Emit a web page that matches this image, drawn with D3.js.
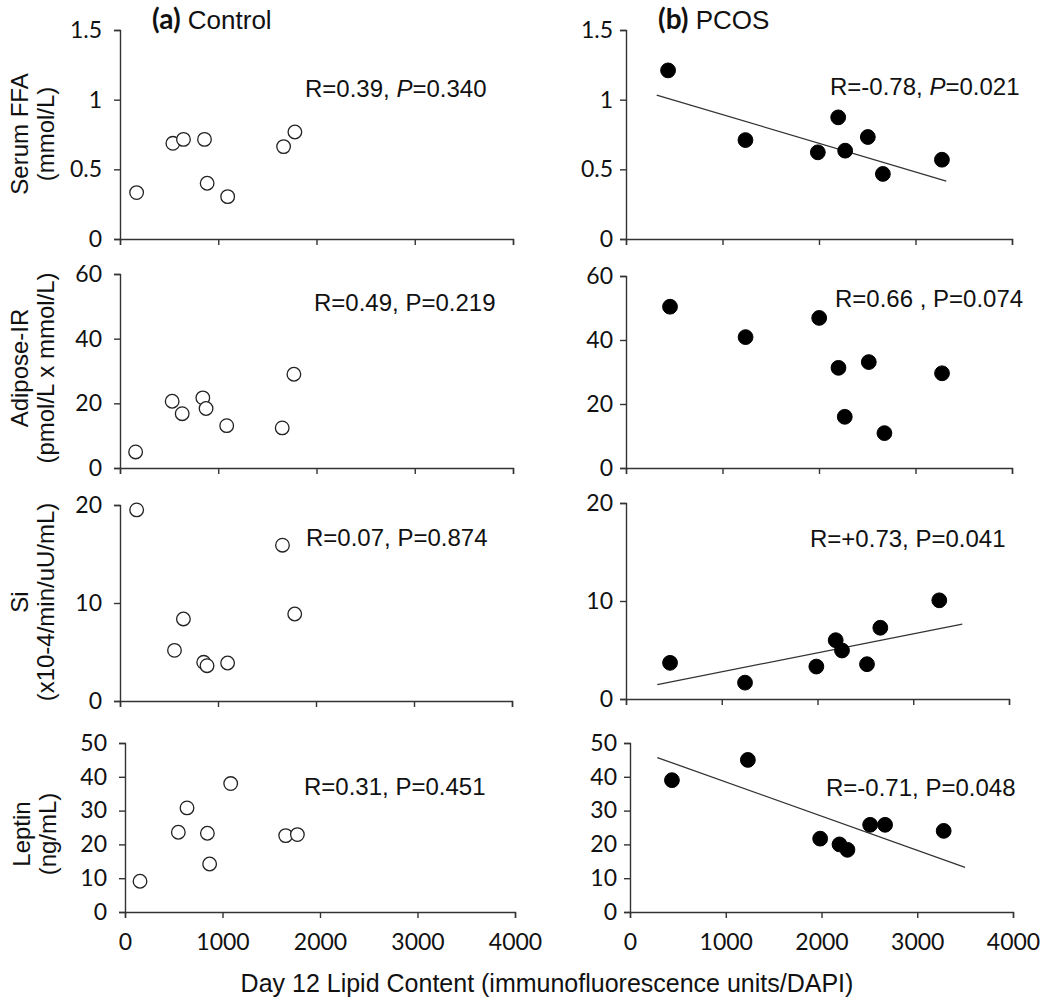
<!DOCTYPE html>
<html>
<head>
<meta charset="utf-8">
<script src="https://cdn.jsdelivr.net/npm/d3@7"></script>
<style>
  html, body { margin: 0; padding: 0; background: #fff; }
  svg { display: block; }
</style>
</head>
<body>
<svg id="chart" width="1050" height="1004"></svg>
<script>
// ---------------- DATA ----------------
const rowNames = ["Serum FFA", "Adipose-IR", "Si", "Leptin"];
const rowUnits = ["(mmol/L)", "(pmol/L x mmol/L)", "(x10-4/min/uU/mL)", "(ng/mL)"];
const yMax = [1.5, 60, 20, 50];
const yTicks = [[0, 0.5, 1, 1.5], [0, 20, 40, 60], [0, 10, 20], [0, 10, 20, 30, 40, 50]];
const xTicks = [0, 1000, 2000, 3000, 4000];
const xTitle = "Day 12 Lipid Content (immunofluorescence units/DAPI)";

// Control group (open circles)
const controlX = [
  [169, 538, 646, 860, 887, 1096, 1665, 1780],
  [159, 531, 633, 843, 876, 1086, 1651, 1770],
  [170, 556, 647, 854, 888, 1098, 1658, 1783],
  [154, 547, 636, 845, 868, 1084, 1648, 1768]
];
const controlY = [
  [0.333, 0.687, 0.715, 0.715, 0.40, 0.304, 0.663, 0.768],
  [4.96, 20.65, 16.8, 21.7, 18.4, 13.1, 12.4, 29.0],
  [19.5, 5.17, 8.37, 3.95, 3.6, 3.88, 15.9, 8.88],
  [9.1, 23.6, 30.8, 23.3, 14.2, 38.0, 22.6, 22.9]
];
// PCOS group (filled circles)
const pcosX = [
  [436, 1238, 1988, 2199, 2271, 2506, 2662, 3274],
  [456, 1239, 2002, 2202, 2267, 2516, 2678, 3275],
  [460, 1243, 1988, 2190, 2256, 2517, 2656, 3272],
  [438, 1231, 1986, 2188, 2271, 2508, 2664, 3276]
];
const pcosY = [
  [1.21, 0.71, 0.622, 0.873, 0.634, 0.732, 0.467, 0.569],
  [50.4, 40.9, 46.9, 31.3, 16.0, 33.1, 10.9, 29.6],
  [3.69, 1.67, 3.31, 6.0, 4.95, 3.55, 7.27, 10.07],
  [39.0, 45.0, 21.7, 20.0, 18.4, 25.8, 25.8, 24.0]
];
// regression line end points [x0, y0, x1, y1] (null = none)
const pcosFit = [
  [318, 1.033, 3319, 0.416],
  null,
  [327, 1.47, 3512, 7.65],
  [285, 45.7, 3499, 13.2]
];
const controlR = ["0.39", "0.49", "0.07", "0.31"];
const controlP = ["0.340", "0.219", "0.874", "0.451"];
const pcosR = ["-0.78", "0.66 ", "+0.73", "-0.71"];
const pcosP = ["0.021", "0.074", "0.041", "0.048"];
const italicP = [true, false, false, false];
const groupTags = ["(a)", "(b)"];
const groupNames = ["Control", "PCOS"];

// ---------------- LAYOUT ----------------
// per panel pixel frame: [x at 0, x at 4000, y at max, y at 0]
const frames = [
  [[120, 513, 30, 239], [626, 1012, 30, 239]],
  [[120, 513, 274, 468], [626, 1012, 276, 468]],
  [[120, 512, 505, 701], [626, 1009, 503, 699]],
  [[125, 515, 743, 912], [630, 1013, 743, 912]]
];
const yPad = [12, 7];
const statPos = [
  [[305, 97], [830, 95]],
  [[314, 311], [835, 307]],
  [[306, 546], [810, 547]],
  [[304, 795], [826, 796]]
];
const labelCenterY = [134, 368, 602, 834];

const svg = d3.select("#chart");
const SANS = "'Liberation Sans', Arial, sans-serif";
const TICKF = "Lato, 'Open Sans', sans-serif";
const AX = "#333";

for (let r = 0; r < 4; r++) {
  for (let c = 0; c < 2; c++) {
    const f = frames[r][c];
    const x = d3.scaleLinear().domain([0, 4000]).range([f[0], f[1]]);
    const y = d3.scaleLinear().domain([0, yMax[r]]).range([f[3], f[2]]);
    const g = svg.append("g");

    // x axis
    const xa = d3.axisBottom(x).tickValues(xTicks).tickSize(6).tickSizeOuter(6).tickPadding(16)
      .tickFormat(d => String(d));
    if (r < 3) xa.tickFormat("");
    const gx = g.append("g").attr("transform", `translate(0,${f[3]})`).call(xa);
    // y axis
    const ya = d3.axisLeft(y).tickValues(yTicks[r]).tickSize(6).tickSizeOuter(6).tickPadding(yPad[c])
      .tickFormat(d => String(d));
    const gy = g.append("g").attr("transform", `translate(${f[0]},0)`).call(ya);
    [gx, gy].forEach(a => {
      a.selectAll("path, line").attr("stroke", AX).attr("stroke-width", 1.4);
      a.selectAll("text").attr("fill", "#111").style("font-family", TICKF).style("font-size", "23px");
    });

    // regression line
    if (c === 1 && pcosFit[r]) {
      const L = pcosFit[r];
      g.append("line")
        .attr("x1", x(L[0])).attr("y1", y(L[1]))
        .attr("x2", x(L[2])).attr("y2", y(L[3]))
        .attr("stroke", "#333").attr("stroke-width", 1.3);
    }

    // points
    const xs = c === 0 ? controlX[r] : pcosX[r];
    const ys = c === 0 ? controlY[r] : pcosY[r];
    const pts = xs.map((v, i) => ({ x: v, y: ys[i] }));
    g.selectAll("circle.pt").data(pts).enter().append("circle")
      .attr("class", "pt")
      .attr("cx", d => x(d.x)).attr("cy", d => y(d.y))
      .attr("r", c === 0 ? 6.8 : 7.4)
      .attr("fill", c === 0 ? "#fff" : "#000")
      .attr("stroke", c === 0 ? "#222" : "#000")
      .attr("stroke-width", c === 0 ? 1.3 : 1);

    // stats annotation
    const sp = statPos[r][c];
    const t = g.append("text").attr("x", sp[0]).attr("y", sp[1])
      .style("font-family", SANS).style("font-size", "24px").attr("fill", "#111");
    t.append("tspan").text("R=" + (c === 0 ? controlR[r] : pcosR[r]) + ", ");
    t.append("tspan").text("P").style("font-style", italicP[r] ? "italic" : "normal");
    t.append("tspan").text("=" + (c === 0 ? controlP[r] : pcosP[r]));
  }

  // y axis title (left column only)
  const lt = svg.append("text")
    .attr("transform", `translate(0,${labelCenterY[r]}) rotate(-90)`)
    .attr("text-anchor", "middle")
    .style("font-family", SANS).style("font-size", "24px").attr("fill", "#111");
  lt.append("tspan").attr("x", 0).attr("y", r === 3 ? 30 : 28).text(rowNames[r]);
  lt.append("tspan").attr("x", 0).attr("y", r === 3 ? 56 : 54).text(rowUnits[r]);
}

// panel titles
const titleX = [152, 658];
for (let c = 0; c < 2; c++) {
  const tt = svg.append("text").attr("x", titleX[c]).attr("y", 29)
    .style("font-family", SANS).style("font-size", "26px").attr("fill", "#111");
  tt.append("tspan").text(groupTags[c]).style("font-weight", "bold").style("font-family", TICKF)
    .style("font-size", "28px");
  tt.append("tspan").text(" " + groupNames[c]);
}

// x axis title
svg.append("text").attr("x", 547).attr("y", 992).attr("text-anchor", "middle")
  .style("font-family", SANS).style("font-size", "25px").attr("fill", "#111")
  .text(xTitle);
</script>
</body>
</html>
